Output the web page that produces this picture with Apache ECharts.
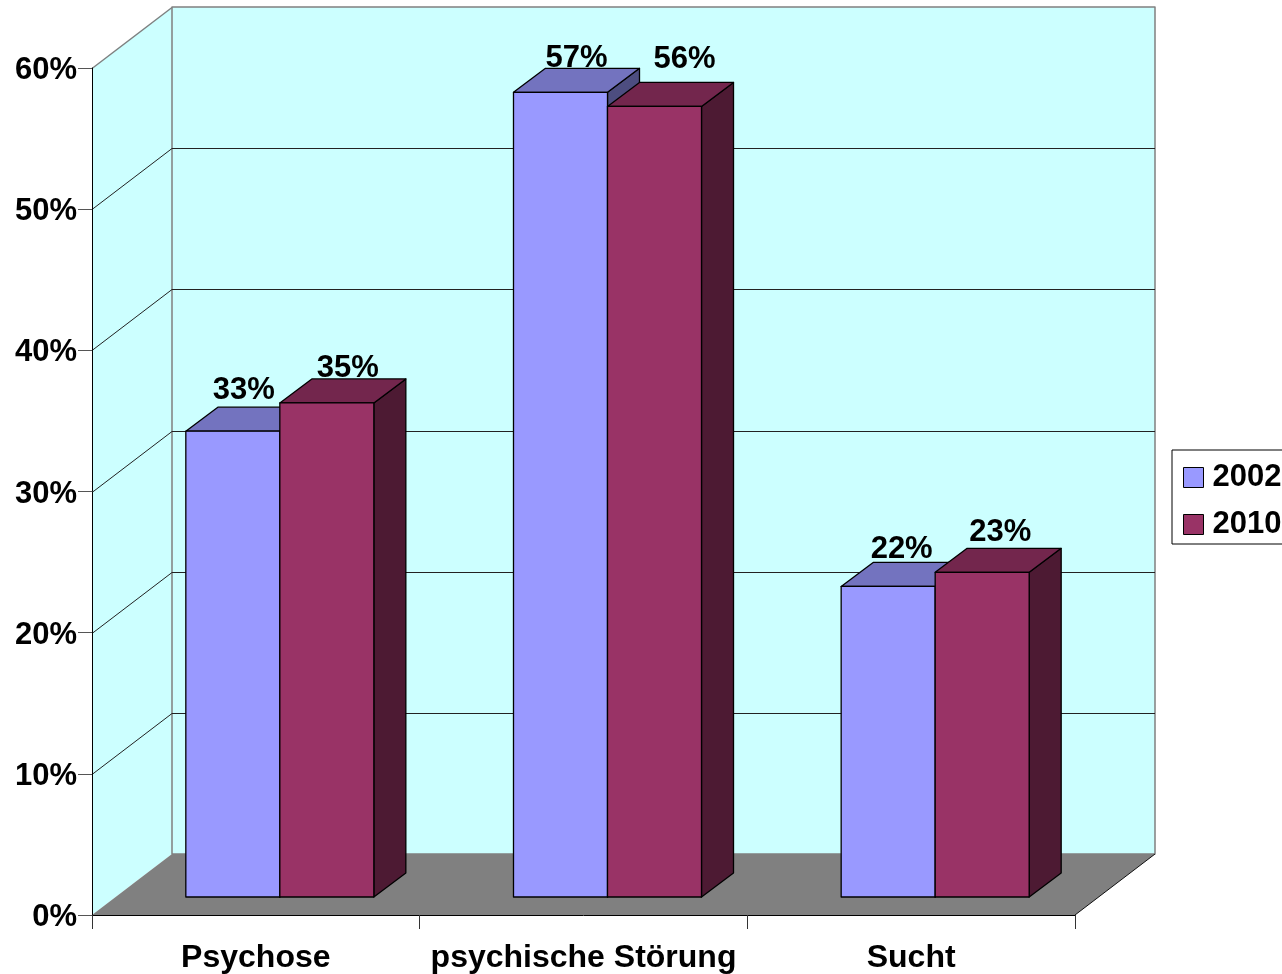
<!DOCTYPE html>
<html>
<head>
<meta charset="utf-8">
<style>
  html, body { margin: 0; padding: 0; background: #fff; overflow: hidden; }
  #chart { width: 1282px; height: 974px; }
</style>
<script src="https://cdn.jsdelivr.net/npm/echarts@6/dist/echarts.min.js"></script>
</head>
<body>
<div id="chart"></div>
<script>
// Share of cases per diagnosis group, in percent
const categories = ['Psychose', 'psychische Störung', 'Sucht'];
const values2002 = [33, 57, 22];
const values2010 = [35, 56, 23];
const yTicks = [0, 10, 20, 30, 40, 50, 60];

// Hand-placed data labels: shift from the centre of the bar's front top edge
const labelShift2002 = [[11, -41], [16, -34], [13.5, -37]];
const labelShift2010 = [[21, -34], [30, -47], [18, -40]];

// Oblique projection of the box and of the bars standing in it
const WALL_DX = 80, WALL_DY = 61;
const BAR_OFFSET_DX = 24, BAR_OFFSET_DY = 18;
const BAR_DEPTH_DX = 32, BAR_DEPTH_DY = 24;
const BAR_WIDTH_RATIO = 0.2869;

const FAMILY = '"Liberation Sans", Arial, sans-serif';
const FONT = 'bold 31px ' + FAMILY;
const WALL = '#CCFFFF', FLOOR = '#808080', EDGE = '#808080', GRID = '#222222';

const COLORS = {
  2002: { front: '#9999FF', top: '#7373BF', side: '#4D4D80' },
  2010: { front: '#993366', top: '#73264D', side: '#4D1A33' }
};

function poly(points, fill, stroke, width) {
  return {
    type: 'polygon',
    shape: { points },
    style: { fill, stroke: stroke || null, lineWidth: width || 1, lineJoin: 'round' }
  };
}

function line(a, b, stroke, width) {
  return {
    type: 'line',
    shape: { x1: a[0], y1: a[1], x2: b[0], y2: b[1] },
    style: { stroke, lineWidth: width || 1 }
  };
}

// Walls, floor and the gridlines that run across them
function renderBox(params, api) {
  const band = api.size([1, 0])[0];
  const left = api.coord([0, 0])[0] - band / 2;
  const right = left + band * categories.length;
  const bottom = api.coord([0, 0])[1];
  const top = api.coord([0, 60])[1];
  const d = [WALL_DX, -WALL_DY];
  const children = [
    poly([[left, bottom], [left + d[0], bottom + d[1]], [left + d[0], top + d[1]], [left, top]], WALL),
    poly([[left + d[0], top + d[1]], [right + d[0], top + d[1]], [right + d[0], bottom + d[1]], [left + d[0], bottom + d[1]]], WALL, EDGE, 1.5),
    line([left, top + 0.5], [left + d[0], top + d[1] + 0.5], EDGE, 1.5)
  ];
  yTicks.slice(1, -1).forEach(function (t) {
    const y = Math.round(api.coord([0, t])[1]) + 0.5;
    children.push(line([left, y], [left + d[0], y + d[1]], GRID));
    children.push(line([left + d[0], y + d[1]], [right + d[0], y + d[1]], GRID));
  });
  children.push(poly(
    [[left, bottom], [left + d[0], bottom + d[1]], [right + d[0], bottom + d[1]], [right, bottom]],
    FLOOR
  ));
  children.push(line([right, bottom], [right + d[0], bottom + d[1]], '#111111'));
  return { type: 'group', children };
}

// One oblique bar; seriesSlot 0 sits left of the category centre, 1 right of it
function makeBarRenderer(seriesSlot, palette, shifts) {
  return function (params, api) {
    const idx = api.value(0);
    const val = api.value(1);
    const band = api.size([1, 0])[0];
    const w = band * BAR_WIDTH_RATIO;
    const cx = api.coord([idx, 0])[0] + BAR_OFFSET_DX;
    const x0 = cx - w + seriesSlot * w;
    const x1 = x0 + w;
    const yb = api.coord([idx, 0])[1] - BAR_OFFSET_DY;
    const yt = api.coord([idx, val])[1] - BAR_OFFSET_DY;
    const dx = BAR_DEPTH_DX, dy = BAR_DEPTH_DY;
    const shift = shifts[params.dataIndex];
    return {
      type: 'group',
      children: [
        {
          type: 'text',
          style: {
            x: (x0 + x1) / 2 + shift[0],
            y: yt + shift[1],
            text: Math.round(val) + '%',
            font: FONT,
            fill: '#000',
            align: 'center',
            verticalAlign: 'middle'
          }
        },
        poly([[x1, yt], [x1 + dx, yt - dy], [x1 + dx, yb - dy], [x1, yb]], palette.side, '#000', 1.3),
        poly([[x0, yt], [x0 + dx, yt - dy], [x1 + dx, yt - dy], [x1, yt]], palette.top, '#000', 1.3),
        poly([[x0, yt], [x1, yt], [x1, yb], [x0, yb]], palette.front, '#000', 1.3)
      ]
    };
  };
}

function toPairs(values) {
  return values.map(function (v, i) { return [i, v]; });
}

const chart = echarts.init(document.getElementById('chart'), null, { renderer: 'canvas' });

chart.setOption({
  animation: false,
  backgroundColor: '#fff',
  grid: { left: 92, right: 207, top: 68, bottom: 59, containLabel: false },
  xAxis: {
    type: 'category',
    data: categories,
    z: 5,
    axisLine: { show: true, lineStyle: { color: '#000', width: 1 } },
    axisTick: { show: true, alignWithLabel: false, length: 14, lineStyle: { color: '#333' } },
    axisLabel: { interval: 0, margin: 27, color: '#000', fontWeight: 'bold', fontSize: 32, fontFamily: FAMILY },
    splitLine: { show: false }
  },
  yAxis: {
    type: 'value',
    min: 0,
    max: 60,
    interval: 10,
    z: 5,
    axisLine: { show: true, lineStyle: { color: '#000', width: 1 } },
    axisTick: { show: true, length: 14, lineStyle: { color: '#555' } },
    axisLabel: {
      margin: 15,
      formatter: '{v|{value}%}',
      rich: {
        v: {
          padding: [5, 0, 0, 0],
          color: '#000',
          fontWeight: 'bold',
          fontSize: 31,
          fontFamily: FAMILY
        }
      }
    },
    splitLine: { show: false }
  },
  legend: {
    orient: 'vertical',
    left: 1172,
    top: 450,
    padding: [12, 10, 4, 11],
    itemWidth: 20,
    itemHeight: 20,
    itemGap: 16,
    backgroundColor: '#fff',
    borderColor: '#000',
    borderWidth: 1,
    borderRadius: 0,
    selectedMode: false,
    textStyle: {
      color: '#000',
      fontWeight: 'bold',
      fontSize: 31,
      fontFamily: FAMILY,
      padding: [0, 0, 0, 4]
    },
    data: [
      { name: '2002', icon: 'rect', itemStyle: { color: COLORS[2002].front, borderColor: '#000', borderWidth: 1 } },
      { name: '2010', icon: 'rect', itemStyle: { color: COLORS[2010].front, borderColor: '#000', borderWidth: 1 } }
    ]
  },
  series: [
    {
      type: 'custom',
      name: 'box',
      z: 1,
      clip: false,
      silent: true,
      renderItem: renderBox,
      encode: { x: 0, y: 1 },
      data: [[0, 0]]
    },
    {
      type: 'custom',
      name: '2002',
      z: 6,
      clip: false,
      itemStyle: { color: COLORS[2002].front },
      renderItem: makeBarRenderer(0, COLORS[2002], labelShift2002),
      encode: { x: 0, y: 1 },
      data: toPairs(values2002)
    },
    {
      type: 'custom',
      name: '2010',
      z: 7,
      clip: false,
      itemStyle: { color: COLORS[2010].front },
      renderItem: makeBarRenderer(1, COLORS[2010], labelShift2010),
      encode: { x: 0, y: 1 },
      data: toPairs(values2010)
    }
  ]
});
</script>
</body>
</html>
